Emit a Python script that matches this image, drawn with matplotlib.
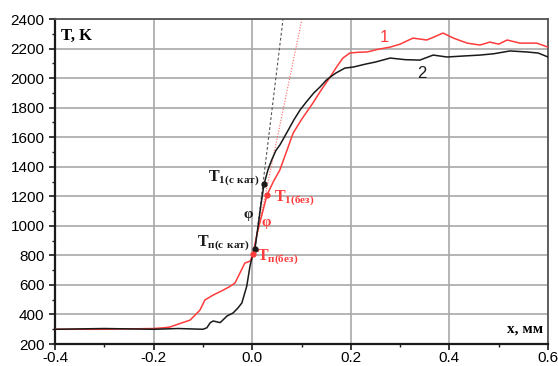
import matplotlib
matplotlib.use("Agg")
import matplotlib.pyplot as plt
import numpy as np
from matplotlib.ticker import MultipleLocator

plt.rcParams['font.family'] = ['Liberation Sans', 'DejaVu Sans']
plt.rcParams['mathtext.fontset'] = 'custom'
plt.rcParams['mathtext.bf'] = 'Liberation Serif:bold'
plt.rcParams['mathtext.rm'] = 'Liberation Serif'

# кривая 1 (без катализатора), красная
x1 = [-0.4, -0.3, -0.2, -0.18, -0.167, -0.15, -0.126, -0.106, -0.096, -0.079,
      -0.059, -0.045, -0.035, -0.025, -0.015, -0.004, 0.0016, 0.01, 0.02, 0.03,
      0.043, 0.056, 0.07, 0.083, 0.1, 0.123, 0.14, 0.158, 0.172, 0.184, 0.198,
      0.215, 0.233, 0.255, 0.28, 0.3, 0.326, 0.354, 0.37, 0.387, 0.408, 0.436,
      0.462, 0.482, 0.5, 0.517, 0.543, 0.577, 0.6]
T1 = [300, 300, 305, 310, 315, 335, 362, 430, 498, 532,
      565, 590, 613, 680, 748, 762, 809, 950, 1080, 1209,
      1300, 1378, 1507, 1628, 1720, 1831, 1920, 2007, 2080, 2136, 2170,
      2175, 2177, 2195, 2210, 2230, 2271, 2258, 2280, 2305, 2271, 2237,
      2224, 2244, 2230, 2258, 2237, 2237, 2210]

# кривая 2 (с катализатором), черная
x2 = [-0.4, -0.3, -0.2, -0.15, -0.1, -0.092, -0.085, -0.079, -0.065, -0.051,
      -0.039, -0.03, -0.021, -0.011, -0.0045, 0.0, 0.0057, 0.012, 0.018, 0.024,
      0.032, 0.04, 0.048, 0.056, 0.065, 0.075, 0.085, 0.097, 0.11, 0.125,
      0.1375, 0.15, 0.158, 0.17, 0.188, 0.205, 0.23, 0.25, 0.28, 0.31, 0.34,
      0.367, 0.395, 0.43, 0.462, 0.49, 0.523, 0.557, 0.58, 0.6]
T2 = [300, 305, 300, 305, 300, 310, 345, 356, 345, 390,
      410, 440, 478, 593, 728, 790, 850, 1000, 1150, 1283,
      1380, 1450, 1510, 1547, 1600, 1660, 1720, 1784, 1840, 1900,
      1940, 1985, 2007, 2035, 2068, 2075, 2095, 2109, 2136, 2125, 2122,
      2156, 2143, 2150, 2156, 2165, 2184, 2177, 2170, 2143]

# точки Tп и T1
pts_black_x = [0.0057, 0.024]
pts_black_T = [843, 1283]
pts_red_x = [0.0016, 0.03]
pts_red_T = [809, 1209]
# где касательные выходят на верхнюю границу (T = 2400)
tangent_top_x = [0.0625, 0.101]

RED = '#ff3b3b'
BLACK = '#1a1a1a'

fig = plt.figure(figsize=(5.58, 3.66), dpi=100)
ax = fig.add_axes([0.0986, 0.060, 0.8835, 0.888])

ax.plot(x1, T1, color=RED, lw=1.1, zorder=3)
ax.plot(x2, T2, color=BLACK, lw=1.1, zorder=3)

# касательные от Tп до верхней границы
ax.plot([pts_black_x[0], tangent_top_x[0]], [pts_black_T[0], 2400],
        color='#555555', lw=0.8, ls=(0, (2.5, 2)), zorder=2)
ax.plot([pts_red_x[0], tangent_top_x[1]], [pts_red_T[0], 2400],
        color='#ff6060', lw=0.8, ls=(0, (1, 1.5)), zorder=2)

ax.plot(pts_black_x, pts_black_T, 'o', color=BLACK, ms=3.5, zorder=4)
ax.plot(pts_red_x, pts_red_T, 'o', color=RED, ms=3.5, zorder=4)

ax.text(0.014, 1320, r'$\mathbf{T_{1(с\ кат)}}$', color=BLACK, fontsize=11.5, ha='right', va='center')
ax.text(-0.005, 880, r'$\mathbf{T_{п(с\ кат)}}$', color=BLACK, fontsize=11.5, ha='right', va='center')
ax.text(0.044, 1185, r'$\mathbf{T_{1(без)}}$', color=RED, fontsize=11.5, ha='left', va='center')
ax.text(0.010, 785, r'$\mathbf{T_{п(без)}}$', color=RED, fontsize=11.5, ha='left', va='center')
ax.text(-0.009, 1080, 'φ', color=BLACK, fontsize=11, family='Liberation Serif', fontweight='bold',
        ha='center', va='center')
ax.text(0.029, 1026, 'φ', color=RED, fontsize=11, family='Liberation Serif', fontweight='bold',
        ha='center', va='center')
ax.text(0.269, 2278, '1', color=RED, fontsize=12, ha='center', va='center')
ax.text(0.344, 2034, '2', color=BLACK, fontsize=12, ha='center', va='center')

ax.text(0.012, 0.972, 'T, K', transform=ax.transAxes, fontsize=12, fontweight='bold',
        family='Liberation Serif', ha='left', va='top')
ax.text(0.99, 0.025, 'x, мм', transform=ax.transAxes, fontsize=11, fontweight='bold',
        family='Liberation Serif', ha='right', va='bottom')

ax.set_xlim(-0.4, 0.6)
ax.set_ylim(200, 2400)
ax.xaxis.set_major_locator(MultipleLocator(0.2))
ax.xaxis.set_minor_locator(MultipleLocator(0.1))
ax.yaxis.set_major_locator(MultipleLocator(200))
ax.yaxis.set_minor_locator(MultipleLocator(100))
ax.set_xticklabels([f'{v:.1f}' for v in ax.get_xticks()])
ax.grid(True, which='major', color='#a8a8a8', lw=1.2)
ax.set_axisbelow(True)

ax.tick_params(which='both', direction='out', labelsize=11, color=BLACK)
ax.tick_params(which='major', length=4, width=1.2)
ax.tick_params(which='minor', length=2.5, width=1.0)
ax.tick_params(axis='x', which='major', pad=1)
for s in ['left', 'bottom']:
    ax.spines[s].set_linewidth(1.6)
    ax.spines[s].set_color(BLACK)
for s in ['top', 'right']:
    ax.spines[s].set_linewidth(1.3)
    ax.spines[s].set_color('#555555')

fig.savefig('out.png', dpi=100)
